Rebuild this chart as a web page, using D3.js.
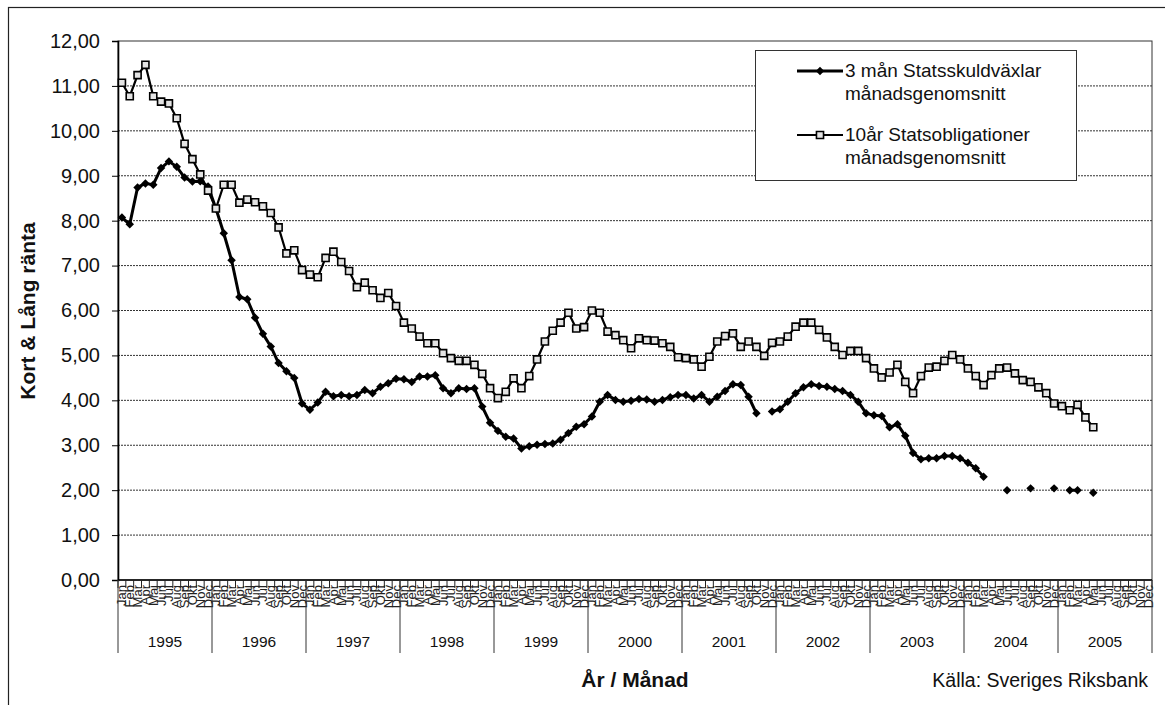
<!DOCTYPE html>
<html>
<head>
<meta charset="utf-8">
<script src="https://cdn.jsdelivr.net/npm/d3@7"></script>
<style>
body { margin: 0; background: #fff; }
svg { font-family: "Liberation Sans", Arial, sans-serif; }
</style>
</head>
<body>
<svg width="1165" height="705"></svg>
<script>
// Tick labels
var years = [1995, 1996, 1997, 1998, 1999, 2000, 2001, 2002, 2003, 2004, 2005];
var months = ["Jan", "Feb", "Mar", "Apr", "Maj", "Jun", "Jul", "Aug", "Sep", "Okt", "Nov", "Dec"];
var yTicks = [0, 1, 2, 3, 4, 5, 6, 7, 8, 9, 10, 11, 12];

// 3 mån Statsskuldväxlar, Jan 1995 - Maj 2005 (null = saknas)
var kort = [
  8.07, 7.92, 8.74, 8.83, 8.80, 9.17, 9.32, 9.20, 8.96, 8.87, 8.88, 8.76,
  8.27, 7.72, 7.12, 6.30, 6.25, 5.84, 5.48, 5.20, 4.83, 4.65, 4.50, 3.93,
  3.79, 3.95, 4.19, 4.09, 4.12, 4.09, 4.12, 4.23, 4.16, 4.30, 4.38, 4.48,
  4.47, 4.41, 4.53, 4.53, 4.56, 4.27, 4.16, 4.27, 4.25, 4.27, 3.86, 3.50,
  3.32, 3.19, 3.15, 2.93, 2.98, 3.01, 3.03, 3.04, 3.12, 3.27, 3.41, 3.47,
  3.64, 3.97, 4.12, 4.01, 3.97, 3.99, 4.03, 4.02, 3.97, 4.01, 4.07, 4.12,
  4.12, 4.04, 4.12, 3.97, 4.08, 4.21, 4.36, 4.34, 4.08, 3.71, null, 3.75,
  3.80, 3.97, 4.16, 4.29, 4.36, 4.32, 4.30, 4.25, 4.21, 4.12, 3.97, 3.71,
  3.67, 3.65, 3.40, 3.47, 3.21, 2.83, 2.69, 2.71, 2.71, 2.76, 2.76, 2.71,
  2.61, 2.49, 2.30, null, null, 2.00, null, null, 2.04, null, null, 2.04,
  null, 2.00, 2.00, null, 1.94
];

// 10år Statsobligationer, Jan 1995 - Maj 2005
var lang = [
  11.07, 10.77, 11.24, 11.47, 10.77, 10.65, 10.61, 10.28, 9.71, 9.37, 9.03, 8.67,
  8.27, 8.80, 8.80, 8.40, 8.47, 8.41, 8.32, 8.17, 7.85, 7.27, 7.34, 6.90,
  6.80, 6.74, 7.17, 7.31, 7.08, 6.88, 6.52, 6.62, 6.45, 6.28, 6.39, 6.10,
  5.73, 5.60, 5.42, 5.27, 5.27, 5.05, 4.94, 4.88, 4.88, 4.79, 4.59, 4.27,
  4.05, 4.19, 4.49, 4.27, 4.54, 4.91, 5.31, 5.55, 5.73, 5.95, 5.60, 5.63,
  6.00, 5.95, 5.53, 5.45, 5.34, 5.16, 5.38, 5.34, 5.33, 5.27, 5.19, 4.96,
  4.94, 4.91, 4.75, 4.97, 5.31, 5.43, 5.49, 5.19, 5.31, 5.19, 4.99, 5.28,
  5.31, 5.42, 5.64, 5.73, 5.73, 5.57, 5.40, 5.19, 5.01, 5.10, 5.10, 4.94,
  4.71, 4.51, 4.62, 4.79, 4.41, 4.16, 4.54, 4.73, 4.75, 4.88, 5.01, 4.91,
  4.71, 4.54, 4.34, 4.56, 4.71, 4.73, 4.60, 4.45, 4.41, 4.29, 4.16, 3.93,
  3.87, 3.78, 3.90, 3.62, 3.40
];

var seriesNames = [["3 mån Statsskuldväxlar", "månadsgenomsnitt"],
                   ["10år Statsobligationer", "månadsgenomsnitt"]];

// The svg
var svg = d3.select("svg");

// one category per month
var categories = [];
years.forEach(function(yr) {
  months.forEach(function(m) { categories.push(yr + "-" + m); });
});

var x = d3.scaleBand().domain(categories).range([118, 1152]);
var y = d3.scaleLinear().domain([0, 12]).range([580, 41]);
var cx = function(i) { return x(categories[i]) + x.bandwidth() / 2; };

// outer frame (only top and left edge inside the picture)
svg.append("rect")
  .attr("x", 8.5).attr("y", 7.5)
  .attr("width", 1400).attr("height", 900)
  .attr("fill", "none").attr("stroke", "#222").attr("stroke-width", 1.2);

// gridlines
svg.append("g")
  .selectAll("line")
  .data(yTicks.filter(function(t) { return t > 0 && t < 12; }))
  .enter()
  .append("line")
    .attr("x1", 118).attr("x2", 1152)
    .attr("y1", function(d) { return y(d); })
    .attr("y2", function(d) { return y(d); })
    .attr("stroke", "#333")
    .attr("stroke-width", 1)
    .attr("stroke-dasharray", "2,1");

// plot border
svg.append("rect")
  .attr("x", 118).attr("y", y(12))
  .attr("width", 1034).attr("height", y(0) - y(12))
  .attr("fill", "none").attr("stroke", "#333").attr("stroke-width", 1);

// y axis
var yAxis = svg.append("g")
  .attr("transform", "translate(118,0)")
  .call(d3.axisLeft(y)
    .tickValues(yTicks)
    .tickSize(6)
    .tickPadding(12)
    .tickFormat(function(d) { return d.toFixed(2).replace(".", ","); }));
yAxis.select(".domain").attr("stroke", "#000").attr("stroke-width", 1.6);
yAxis.selectAll("text")
  .attr("font-size", "20px")
  .attr("fill", "#111")
  .style("font-family", "'Liberation Sans', Arial, sans-serif");

// x axis line
svg.append("line")
  .attr("x1", 118).attr("x2", 1152)
  .attr("y1", y(0)).attr("y2", y(0))
  .attr("stroke", "#000").attr("stroke-width", 1.6);

// month ticks between categories
svg.append("g")
  .selectAll("line")
  .data(categories.concat(["end"]))
  .enter()
  .append("line")
    .attr("x1", function(d) { return d == "end" ? 1152 : x(d); })
    .attr("x2", function(d) { return d == "end" ? 1152 : x(d); })
    .attr("y1", 580).attr("y2", 588)
    .attr("stroke", "#222").attr("stroke-width", 1);

// month labels (rotated)
svg.append("g")
  .selectAll("text")
  .data(categories)
  .enter()
  .append("text")
    .attr("transform", function(d, i) { return "translate(" + (cx(i) + 4.5) + ",585) rotate(-90)"; })
    .attr("text-anchor", "end")
    .attr("font-size", "13px")
    .attr("fill", "#222")
    .text(function(d) { return d.split("-")[1]; });

// year separators
svg.append("g")
  .selectAll("line")
  .data(years.map(function(yr) { return yr + "-Jan"; }).concat(["end"]))
  .enter()
  .append("line")
    .attr("x1", function(d) { return d == "end" ? 1152 : x(d); })
    .attr("x2", function(d) { return d == "end" ? 1152 : x(d); })
    .attr("y1", 580).attr("y2", 653)
    .attr("stroke", "#333").attr("stroke-width", 1);

// year labels
svg.append("g")
  .selectAll("text")
  .data(years)
  .enter()
  .append("text")
    .attr("x", function(d) { return x(d + "-Jan") + 6 * x.bandwidth(); })
    .attr("y", 647)
    .attr("text-anchor", "middle")
    .attr("font-size", "15.5px")
    .attr("fill", "#111")
    .text(function(d) { return d; });

// axis titles
svg.append("text")
  .attr("x", 635).attr("y", 687)
  .attr("text-anchor", "middle")
  .attr("font-size", "21px").attr("font-weight", "bold")
  .attr("fill", "#111")
  .text("År / Månad");

svg.append("text")
  .attr("transform", "translate(35,311) rotate(-90)")
  .attr("text-anchor", "middle")
  .attr("font-size", "21px").attr("font-weight", "bold")
  .attr("fill", "#111")
  .text("Kort & Lång ränta");

svg.append("text")
  .attr("x", 1148).attr("y", 687)
  .attr("text-anchor", "end")
  .attr("font-size", "19.5px")
  .attr("fill", "#111")
  .text("Källa: Sveriges Riksbank");

// lines
var line = d3.line()
  .defined(function(d) { return d != null; })
  .x(function(d, i) { return cx(i); })
  .y(function(d) { return y(d); });

var diamond = d3.symbol().type(d3.symbolSquare).size(36);
var square = d3.symbol().type(d3.symbolSquare).size(50);

// short rate
svg.append("path")
  .datum(kort)
  .attr("d", line)
  .attr("fill", "none")
  .attr("stroke", "#000")
  .attr("stroke-width", 3)
  .attr("stroke-linejoin", "round");

svg.append("g")
  .selectAll("path")
  .data(kort.map(function(v, i) { return {v: v, i: i}; }).filter(function(d) { return d.v != null; }))
  .enter()
  .append("path")
    .attr("d", diamond)
    .attr("transform", function(d) { return "translate(" + cx(d.i) + "," + y(d.v) + ") rotate(45)"; })
    .attr("fill", "#000");

// long rate
svg.append("path")
  .datum(lang)
  .attr("d", line)
  .attr("fill", "none")
  .attr("stroke", "#000")
  .attr("stroke-width", 2.2)
  .attr("stroke-linejoin", "round");

svg.append("g")
  .selectAll("path")
  .data(lang)
  .enter()
  .append("path")
    .attr("d", square)
    .attr("transform", function(d, i) { return "translate(" + cx(i) + "," + y(d) + ")"; })
    .attr("fill", "#e4e4e4")
    .attr("stroke", "#000")
    .attr("stroke-width", 1.6);

// legend
var legend = svg.append("g");
legend.append("rect")
  .attr("x", 755.5).attr("y", 50.5)
  .attr("width", 321).attr("height", 130)
  .attr("fill", "#fff").attr("stroke", "#333").attr("stroke-width", 1);

var legRows = [71, 135];
legRows.forEach(function(ly, k) {
  legend.append("line")
    .attr("x1", 797).attr("x2", 843)
    .attr("y1", ly).attr("y2", ly)
    .attr("stroke", "#000").attr("stroke-width", k == 0 ? 3 : 2.2);
  legend.append("path")
    .attr("d", k == 0 ? diamond : square)
    .attr("transform", "translate(820," + ly + ")" + (k == 0 ? " rotate(45)" : ""))
    .attr("fill", k == 0 ? "#000" : "#e4e4e4")
    .attr("stroke", k == 0 ? "none" : "#000")
    .attr("stroke-width", 1.6);
  legend.append("text")
    .attr("x", 845).attr("y", ly + 6)
    .attr("font-size", "19px").attr("fill", "#111")
    .text(seriesNames[k][0]);
  legend.append("text")
    .attr("x", 845).attr("y", ly + 29)
    .attr("font-size", "19px").attr("fill", "#111")
    .text(seriesNames[k][1]);
});
</script>
</body>
</html>
